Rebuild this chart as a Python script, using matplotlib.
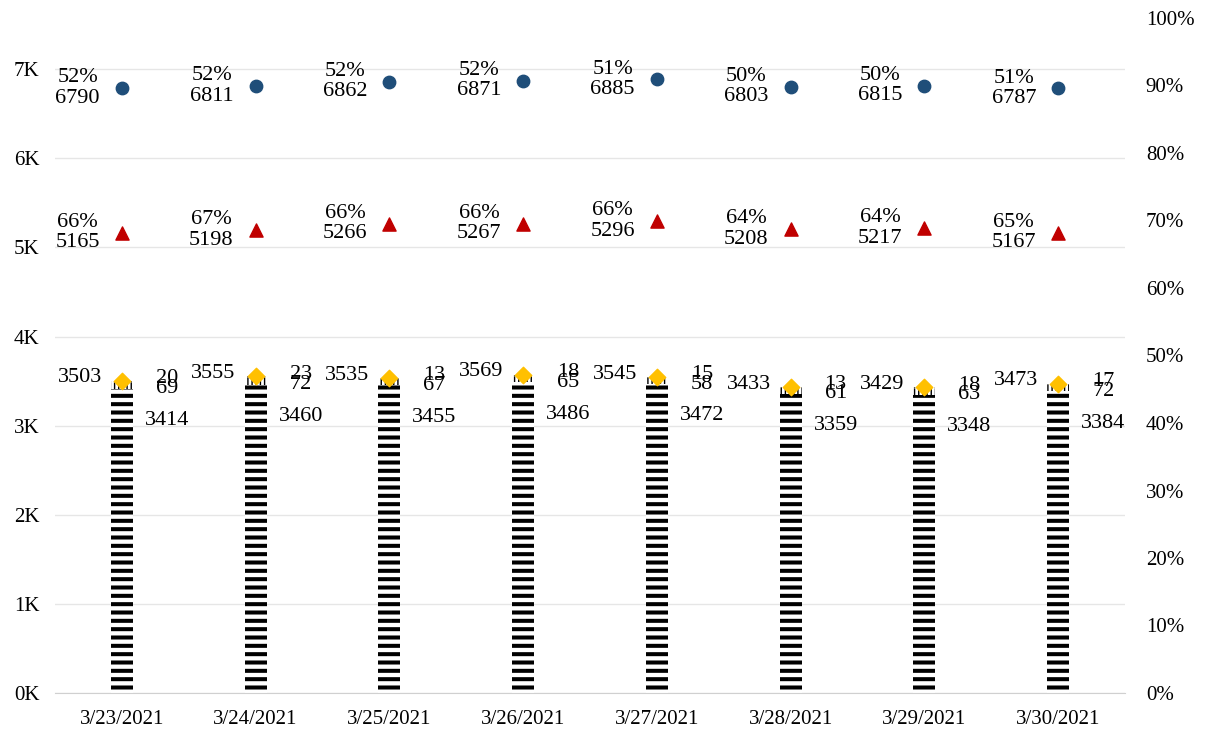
import matplotlib
matplotlib.use("Agg")
import matplotlib.pyplot as plt
import numpy as np
from matplotlib.ticker import FuncFormatter, MultipleLocator

plt.rcParams['font.family'] = ['Liberation Serif', 'DejaVu Serif']
plt.rcParams['hatch.linewidth'] = 2.9

dates = ["3/23/2021", "3/24/2021", "3/25/2021", "3/26/2021",
         "3/27/2021", "3/28/2021", "3/29/2021", "3/30/2021"]
seg_bottom = [3414, 3460, 3455, 3486, 3472, 3359, 3348, 3384]
seg_mid = [69, 72, 67, 65, 58, 61, 63, 72]
seg_top = [20, 23, 13, 18, 15, 13, 18, 17]
totals = [3503, 3555, 3535, 3569, 3545, 3433, 3429, 3473]
circle_vals = [6790, 6811, 6862, 6871, 6885, 6803, 6815, 6787]
circle_pct = [52, 52, 52, 52, 51, 50, 50, 51]
tri_vals = [5165, 5198, 5266, 5267, 5296, 5208, 5217, 5167]
tri_pct = [66, 67, 66, 66, 66, 64, 64, 65]

fig = plt.figure(figsize=(12.09, 7.31), dpi=100)
ax = fig.add_axes([55 / 1209, 38 / 731, 1070 / 1209, 675 / 731])
ax2 = ax.twinx()

x = np.arange(len(dates))
w = 0.165
b = np.array(seg_bottom)
m = np.array(seg_mid)
t = np.array(seg_top)

ax.bar(x, b, w, color='white', edgecolor='black', hatch='--', linewidth=0, zorder=2)
plt.rcParams['hatch.linewidth'] = 1.0
ax.bar(x, m, w, bottom=b, color='white', edgecolor='black', hatch='||||', linewidth=0, zorder=2)
ax.bar(x, t, w, bottom=b + m, color='white', edgecolor='#555555', hatch='||||', linewidth=0, zorder=2)

ax.scatter(x, totals, marker='D', s=70, color='#FFC000', zorder=4)
ax.scatter(x, circle_vals, marker='o', s=80, color='#1F4E79', zorder=4)
ax.scatter(x, tri_vals, marker='^', s=90, color='#C00000', zorder=4)

fs = 16
for i in range(len(dates)):
    ax.annotate(str(totals[i]), (x[i], totals[i]), xytext=(-20, 3), textcoords='offset pixels',
                ha='right', va='center', fontsize=fs)
    ax.annotate(str(seg_top[i]), (x[i], b[i] + m[i] + t[i] / 2), xytext=(45, 3), textcoords='offset pixels',
                ha='center', va='center', fontsize=fs)
    ax.annotate(str(seg_mid[i]), (x[i], b[i] + m[i] / 2), xytext=(45, -3), textcoords='offset pixels',
                ha='center', va='center', fontsize=fs)
    ax.annotate(str(seg_bottom[i]), (x[i], b[i]), xytext=(23, -32), textcoords='offset pixels',
                ha='left', va='center', fontsize=fs)
    ax.annotate(f"{circle_pct[i]}%\n{circle_vals[i]}", (x[i], circle_vals[i]), xytext=(-22, 0),
                textcoords='offset pixels', ha='right', va='center', multialignment='center',
                fontsize=fs, linespacing=1.1)
    ax.annotate(f"{tri_pct[i]}%\n{tri_vals[i]}", (x[i], tri_vals[i]), xytext=(-22, 0),
                textcoords='offset pixels', ha='right', va='center', multialignment='center',
                fontsize=fs, linespacing=1.1)

ax.set_xlim(-0.5, len(dates) - 0.5)
ax.set_ylim(0, 7575)
ax.yaxis.set_major_locator(MultipleLocator(1000))
ax.yaxis.set_major_formatter(FuncFormatter(lambda v, p: f"{int(round(v / 1000))}K"))
ax.set_xticks(x)
ax.set_xticklabels(dates)
ax.grid(axis='y', color='#E6E6E6', linewidth=1, zorder=0)
ax.set_axisbelow(True)

ax2.set_ylim(0, 1)
ax2.yaxis.set_major_locator(MultipleLocator(0.1))
ax2.yaxis.set_major_formatter(FuncFormatter(lambda v, p: f"{int(round(v * 100))}%"))

for a in (ax, ax2):
    for s in ['top', 'right', 'left', 'bottom']:
        a.spines[s].set_visible(False)
    a.tick_params(length=0, labelsize=15)
ax.spines['bottom'].set_visible(True)
ax.spines['bottom'].set_color('#D0D0D0')
ax.tick_params(axis='y', pad=11)
ax.tick_params(axis='x', pad=12)
ax2.tick_params(axis='y', pad=15)

fig.savefig("out.png", dpi=100)
